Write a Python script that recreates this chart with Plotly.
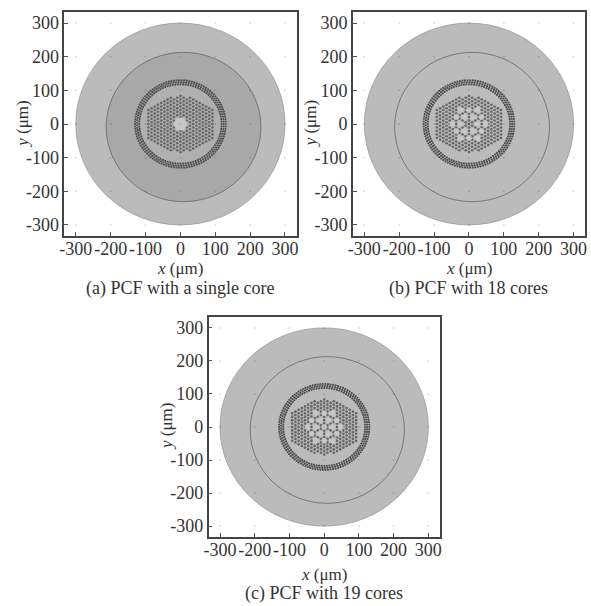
import numpy as np
import plotly.graph_objects as go

W, H = 591, 606
TICKS = [-300, -200, -100, 0, 100, 200, 300]
TICK_LABELS = ["-300", "-200", "-100", "0", "100", "200", "300"]
AX_RANGE = [-333, 333]
CAPTIONS = ["(a) PCF with a single core", "(b) PCF with 18 cores", "(c) PCF with 19 cores"]
# panel frames in pixels: left, right, top, bottom
FRAMES = [(60, 295, 12, 236), (352, 587, 12, 236), (206, 440, 317, 537)]
XTITLE_OFFSET = [32, 32, 37]
CAPTION_OFFSET = [52, 52, 56]
OUTER_R = 300
MIDDLE_R = 222
MIDDLE_C = (9, -9)
OUTER_FILL = "#bbbbbb"
MIDDLE_FILLS = ["#a8a8a8", "#bbbbbb", "#bbbbbb"]
INNER_FILLS = ["#b0b0b0", "#bbbbbb", "#bbbbbb"]
LATTICE_DX = 9.2
LATTICE_DY = 10.4
LATTICE_N = 10
LATTICE_TOP = 92
RING_RADII = [118, 124, 130]
RING_COUNT = [100, 105, 110]
CORE_SPACING = 24
CORE_SETS = [
    [(0, 0)],
    [(q, r) for q in range(-2, 3) for r in range(-2, 3)
     if abs(q + r) <= 2 and (q, r) != (0, 0)],
    [(q, r) for q in range(-2, 3) for r in range(-2, 3) if abs(q + r) <= 2],
]
CORE_SIZES = [20, 7, 7]
TXT = "#333333"
FONT = "Liberation Serif"


def lattice():
    xs, ys = [], []
    for i in range(-LATTICE_N, LATTICE_N + 1):
        span = LATTICE_TOP - (LATTICE_TOP / 2) * abs(i) / LATTICE_N
        offset = 0 if i % 2 == 0 else LATTICE_DY / 2
        for j in range(-12, 13):
            y = j * LATTICE_DY + offset
            if abs(y) <= span:
                xs.append(i * LATTICE_DX)
                ys.append(y)
    return np.array(xs), np.array(ys)


def cores(idx):
    s = CORE_SPACING
    return [(s * (q + r / 2), s * r * np.sqrt(3) / 2) for q, r in CORE_SETS[idx]]


fig = go.Figure()
shapes = []
annotations = []
for k, (l, r, t, b) in enumerate(FRAMES):
    sfx = "" if k == 0 else str(k + 1)
    xa, ya = "x" + sfx, "y" + sfx
    common = dict(range=AX_RANGE, tickvals=TICKS, ticktext=TICK_LABELS, ticks="inside", ticklen=4,
                  tickwidth=1, tickcolor="#555", showline=True, linecolor="#444", linewidth=1.5,
                  mirror=True, showgrid=False, zeroline=False,
                  tickfont=dict(family=FONT, size=18, color=TXT))
    fig.layout["xaxis" + sfx] = dict(common, domain=[l / W, r / W], anchor=ya, tickangle=0,
                                     ticklabelstandoff=-4)
    fig.layout["yaxis" + sfx] = dict(common, domain=[1 - b / H, 1 - t / H], anchor=xa)

    def circle(cx, cy, rad, fill, line="#666", lw=0.8):
        shapes.append(dict(type="circle", xref=xa, yref=ya, x0=cx - rad, x1=cx + rad,
                           y0=cy - rad, y1=cy + rad, fillcolor=fill,
                           line=dict(color=line, width=lw), layer="below"))

    circle(0, 0, OUTER_R, OUTER_FILL, "#999999")
    circle(MIDDLE_C[0], MIDDLE_C[1], MIDDLE_R, MIDDLE_FILLS[k], "#666666")
    circle(0, 0, 128, INNER_FILLS[k], INNER_FILLS[k], 0)

    # lattice holes, with the core sites left out
    lx, ly = lattice()
    core_pts = cores(k)
    keep = np.ones(len(lx), bool)
    for cx, cy in core_pts:
        keep &= np.hypot(lx - cx, ly - cy) > CORE_SIZES[k]
    fig.add_trace(go.Scatter(x=lx[keep], y=ly[keep], mode="markers", xaxis=xa, yaxis=ya,
                             marker=dict(size=2.7, color="#666666", line=dict(width=0)),
                             hoverinfo="skip", showlegend=False))
    # cladding ring of holes
    rx, ry = [], []
    for rad, n in zip(RING_RADII, RING_COUNT):
        a = np.linspace(0, 2 * np.pi, n, endpoint=False)
        rx += list(rad * np.cos(a))
        ry += list(rad * np.sin(a))
    fig.add_trace(go.Scatter(x=rx, y=ry, mode="markers", xaxis=xa, yaxis=ya,
                             marker=dict(size=2.2, color="#505050", line=dict(width=0)),
                             hoverinfo="skip", showlegend=False))
    # cores
    fig.add_trace(go.Scatter(x=[p[0] for p in core_pts], y=[p[1] for p in core_pts], mode="markers",
                             xaxis=xa, yaxis=ya,
                             marker=dict(size=13 if k == 0 else 5.5, color="#c6c6c6", line=dict(width=0)),
                             hoverinfo="skip", showlegend=False))
    # faint marks at the tick crossings
    gx = [p for p in TICKS for _ in TICKS]
    gy = [q for _ in TICKS for q in TICKS]
    fig.add_trace(go.Scatter(x=gx, y=gy, mode="markers", xaxis=xa, yaxis=ya,
                             marker=dict(size=2, color="rgba(0,0,0,0.13)", line=dict(width=0)),
                             hoverinfo="skip", showlegend=False))

    cx_frac = (l + r) / 2 / W
    annotations.append(dict(text="<i>x</i> (μm)", xref="paper", yref="paper", x=cx_frac,
                            y=1 - (b + XTITLE_OFFSET[k]) / H, showarrow=False, xanchor="center", yanchor="middle",
                            font=dict(family=FONT, size=17, color=TXT)))
    annotations.append(dict(text=CAPTIONS[k], xref="paper", yref="paper", x=cx_frac,
                            y=1 - (b + CAPTION_OFFSET[k]) / H, showarrow=False, xanchor="center", yanchor="middle",
                            font=dict(family=FONT, size=18, color=TXT)))
    annotations.append(dict(text="<i>y</i> (μm)", xref="paper", yref="paper",
                            x=(l - 43) / W, y=1 - (t + b) / 2 / H, showarrow=False, textangle=-90,
                            xanchor="center", yanchor="middle",
                            font=dict(family=FONT, size=17, color=TXT)))

fig.update_layout(width=W, height=H, margin=dict(l=0, r=0, t=0, b=0), paper_bgcolor="white",
                  plot_bgcolor="white", shapes=shapes, annotations=annotations, showlegend=False)
fig.write_html("out.html", config=dict(displayModeBar=False),
               post_script="document.body.style.margin='0';document.body.style.overflow='hidden';")
